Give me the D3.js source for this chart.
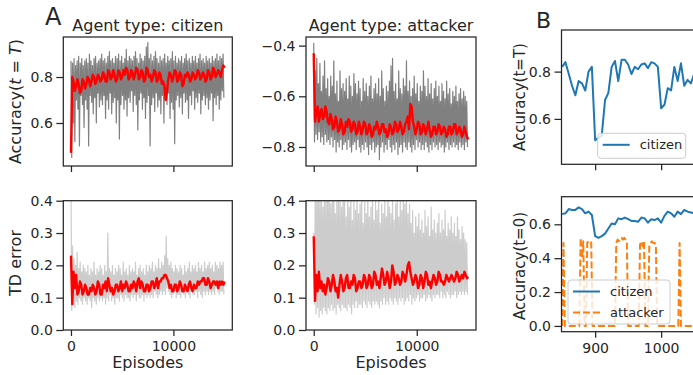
<!DOCTYPE html>
<html>
<head>
<meta charset="utf-8">
<script src="https://cdn.jsdelivr.net/npm/d3@7"></script>
<style>
  body { margin: 0; background: #fff; }
  svg { display: block; font-family: "DejaVu Sans", sans-serif; }
  .axis text { font-size: 14px; fill: #262626; font-family: "DejaVu Sans", sans-serif; }
  .axis line { stroke: #262626; stroke-width: 1.25; }
</style>
</head>
<body>
<svg id="chart" width="693" height="375"></svg>
<script>
// ---- panel A data: raw runs (grey) as alternating high / low readings, smoothed run (red)
const grayStep = 150;   // episodes between grey readings
const redStep = 125;    // episodes between red readings

const citizenAccHi = [
  0.87,0.86,0.88,0.85,0.87,0.89,0.86,0.88,0.85,0.87,
  0.88,0.86,0.90,0.87,0.85,0.88,0.89,0.86,0.87,0.88,
  0.90,0.87,0.88,0.86,0.89,0.91,0.87,0.88,0.86,0.89,
  0.88,0.90,0.87,0.89,0.86,0.88,0.92,0.87,0.89,0.88,
  0.87,0.89,0.91,0.88,0.86,0.90,0.88,0.87,0.89,0.93,
  0.95,0.88,0.90,0.87,0.89,0.91,0.88,0.86,0.89,0.87,
  0.88,0.90,0.86,0.89,0.87,0.88,0.91,0.87,0.89,0.86,
  0.88,0.87,0.89,0.86,0.88,0.90,0.87,0.88,0.86,0.89,
  0.87,0.89,0.86,0.88,0.90,0.87,0.88,0.86,0.89,0.87,
  0.88,0.86,0.89,0.87,0.88,0.90,0.87,0.89,0.88,0.90
];
const citizenAccLo = [
  0.45,0.60,0.52,0.70,0.66,0.50,0.72,0.68,0.58,0.70,
  0.66,0.50,0.72,0.69,0.64,0.71,0.60,0.73,0.67,0.70,
  0.68,0.72,0.62,0.70,0.66,0.73,0.64,0.69,0.71,0.60,
  0.70,0.53,0.68,0.72,0.66,0.70,0.63,0.71,0.69,0.74,
  0.65,0.72,0.68,0.57,0.70,0.73,0.66,0.71,0.62,0.69,
  0.72,0.50,0.68,0.71,0.65,0.73,0.67,0.70,0.64,0.72,
  0.60,0.70,0.68,0.73,0.62,0.69,0.66,0.51,0.70,0.72,
  0.67,0.71,0.64,0.73,0.69,0.70,0.62,0.72,0.68,0.74,
  0.66,0.71,0.69,0.73,0.64,0.70,0.72,0.68,0.71,0.66,
  0.70,0.73,0.61,0.71,0.68,0.72,0.66,0.70,0.74,0.71
];
const citizenAccRed = [
  0.47,0.80,0.78,0.74,0.76,0.79,0.77,0.73,0.74,0.79,
  0.78,0.75,0.77,0.80,0.79,0.76,0.78,0.81,0.80,0.77,
  0.78,0.81,0.80,0.78,0.79,0.82,0.81,0.78,0.78,0.83,
  0.82,0.79,0.80,0.83,0.81,0.78,0.79,0.83,0.82,0.79,
  0.80,0.83,0.81,0.84,0.83,0.79,0.80,0.83,0.82,0.79,
  0.81,0.84,0.83,0.79,0.80,0.83,0.82,0.78,0.79,0.84,
  0.83,0.80,0.81,0.78,0.80,0.83,0.82,0.78,0.79,0.82,
  0.81,0.77,0.78,0.76,0.70,0.74,0.79,0.82,0.81,0.78,
  0.80,0.83,0.82,0.78,0.79,0.82,0.81,0.76,0.77,0.81,
  0.80,0.82,0.81,0.78,0.79,0.82,0.81,0.79,0.80,0.83,
  0.82,0.79,0.80,0.82,0.81,0.78,0.79,0.83,0.82,0.79,
  0.80,0.84,0.83,0.80,0.81,0.83,0.82,0.80,0.83,0.85,
  0.84
];

const attackerAccHi = [
  -0.39,-0.50,-0.45,-0.55,-0.47,-0.58,-0.52,-0.46,-0.57,-0.53,
  -0.60,-0.52,-0.56,-0.46,-0.59,-0.54,-0.62,-0.50,-0.57,-0.55,
  -0.58,-0.53,-0.61,-0.52,-0.56,-0.60,-0.51,-0.55,-0.59,-0.54,
  -0.57,-0.62,-0.53,-0.58,-0.55,-0.60,-0.56,-0.52,-0.61,-0.57,
  -0.55,-0.59,-0.53,-0.60,-0.50,-0.57,-0.62,-0.56,-0.58,-0.54,
  -0.48,-0.45,-0.58,-0.55,-0.61,-0.50,-0.57,-0.59,-0.53,-0.56,
  -0.46,-0.58,-0.54,-0.60,-0.57,-0.52,-0.59,-0.55,-0.62,-0.56,
  -0.58,-0.50,-0.56,-0.60,-0.53,-0.59,-0.55,-0.61,-0.57,-0.54,
  -0.60,-0.56,-0.62,-0.55,-0.58,-0.61,-0.54,-0.59,-0.57,-0.63,
  -0.58,-0.60,-0.56,-0.62,-0.59,-0.57,-0.61,-0.58,-0.60,-0.62
];
const attackerAccLo = [
  -0.78,-0.75,-0.77,-0.74,-0.78,-0.76,-0.79,-0.75,-0.78,-0.77,
  -0.79,-0.76,-0.80,-0.77,-0.82,-0.78,-0.80,-0.77,-0.81,-0.79,
  -0.78,-0.81,-0.77,-0.80,-0.82,-0.79,-0.78,-0.81,-0.77,-0.80,
  -0.82,-0.79,-0.81,-0.78,-0.80,-0.83,-0.79,-0.81,-0.78,-0.82,
  -0.80,-0.79,-0.85,-0.80,-0.78,-0.82,-0.79,-0.81,-0.77,-0.80,
  -0.82,-0.79,-0.81,-0.78,-0.83,-0.80,-0.79,-0.82,-0.78,-0.80,
  -0.81,-0.78,-0.80,-0.82,-0.79,-0.81,-0.77,-0.80,-0.78,-0.81,
  -0.79,-0.81,-0.78,-0.80,-0.82,-0.79,-0.81,-0.78,-0.80,-0.79,
  -0.81,-0.78,-0.80,-0.79,-0.82,-0.80,-0.78,-0.81,-0.79,-0.80,
  -0.78,-0.80,-0.79,-0.81,-0.78,-0.80,-0.79,-0.81,-0.78,-0.80
];
const attackerAccRed = [
  -0.43,-0.70,-0.66,-0.64,-0.70,-0.67,-0.65,-0.69,-0.68,-0.64,
  -0.66,-0.70,-0.71,-0.67,-0.69,-0.73,-0.72,-0.68,-0.70,-0.74,
  -0.73,-0.69,-0.71,-0.75,-0.74,-0.70,-0.72,-0.69,-0.70,-0.74,
  -0.73,-0.70,-0.71,-0.75,-0.74,-0.70,-0.72,-0.75,-0.73,-0.70,
  -0.71,-0.75,-0.74,-0.71,-0.72,-0.76,-0.75,-0.72,-0.73,-0.70,
  -0.72,-0.75,-0.74,-0.71,-0.71,-0.74,-0.73,-0.76,-0.75,-0.71,
  -0.72,-0.75,-0.74,-0.70,-0.71,-0.74,-0.73,-0.70,-0.72,-0.75,
  -0.74,-0.71,-0.70,-0.68,-0.73,-0.63,-0.64,-0.70,-0.72,-0.75,
  -0.73,-0.70,-0.71,-0.75,-0.74,-0.71,-0.72,-0.75,-0.73,-0.70,
  -0.73,-0.76,-0.75,-0.72,-0.72,-0.75,-0.74,-0.71,-0.72,-0.75,
  -0.74,-0.72,-0.73,-0.76,-0.75,-0.72,-0.72,-0.75,-0.74,-0.71,
  -0.71,-0.75,-0.74,-0.72,-0.73,-0.76,-0.75,-0.72,-0.74,-0.76,
  -0.77
];

const citizenTdHi = [
  0.45,0.26,0.22,0.20,0.24,0.19,0.21,0.18,0.20,0.19,
  0.18,0.20,0.17,0.19,0.18,0.21,0.17,0.19,0.18,0.20,
  0.19,0.17,0.20,0.18,0.30,0.19,0.18,0.20,0.17,0.19,
  0.18,0.20,0.19,0.17,0.21,0.18,0.19,0.17,0.20,0.18,
  0.19,0.18,0.21,0.17,0.19,0.20,0.18,0.19,0.17,0.20,
  0.18,0.20,0.19,0.21,0.18,0.20,0.19,0.22,0.19,0.21,
  0.20,0.23,0.29,0.22,0.20,0.21,0.19,0.18,0.20,0.19,
  0.18,0.20,0.19,0.17,0.20,0.18,0.19,0.21,0.18,0.20,
  0.19,0.20,0.18,0.21,0.19,0.20,0.18,0.21,0.19,0.20,
  0.21,0.19,0.20,0.18,0.21,0.20,0.19,0.21,0.20,0.21
];
const citizenTdLo = [
  0.06,0.08,0.07,0.09,0.08,0.10,0.09,0.08,0.10,0.09,
  0.08,0.10,0.09,0.07,0.10,0.09,0.08,0.10,0.09,0.10,
  0.09,0.10,0.08,0.10,0.09,0.11,0.09,0.10,0.08,0.10,
  0.10,0.09,0.11,0.10,0.09,0.11,0.10,0.10,0.09,0.11,
  0.10,0.11,0.09,0.11,0.10,0.10,0.11,0.09,0.11,0.10,
  0.11,0.10,0.11,0.10,0.12,0.11,0.10,0.11,0.12,0.11,
  0.12,0.11,0.13,0.12,0.11,0.10,0.11,0.12,0.10,0.11,
  0.11,0.10,0.12,0.11,0.10,0.12,0.11,0.10,0.12,0.11,
  0.11,0.12,0.10,0.12,0.11,0.10,0.12,0.11,0.12,0.11,
  0.12,0.11,0.12,0.11,0.13,0.12,0.11,0.12,0.12,0.11
];
const citizenTdRed = [
  0.23,0.08,0.18,0.13,0.17,0.11,0.12,0.15,0.14,0.11,
  0.12,0.14,0.13,0.11,0.11,0.13,0.12,0.14,0.13,0.11,
  0.12,0.15,0.14,0.11,0.11,0.14,0.13,0.15,0.12,0.16,
  0.14,0.12,0.13,0.11,0.12,0.14,0.14,0.12,0.13,0.15,
  0.12,0.14,0.13,0.15,0.14,0.12,0.12,0.14,0.13,0.15,
  0.14,0.12,0.15,0.16,0.13,0.15,0.14,0.12,0.12,0.14,
  0.14,0.12,0.13,0.15,0.15,0.13,0.14,0.16,0.13,0.15,
  0.15,0.16,0.16,0.17,0.17,0.16,0.15,0.13,0.14,0.12,
  0.12,0.14,0.14,0.12,0.13,0.15,0.14,0.12,0.12,0.14,
  0.13,0.12,0.14,0.15,0.13,0.12,0.14,0.13,0.13,0.15,
  0.14,0.15,0.15,0.16,0.16,0.14,0.14,0.16,0.15,0.13,
  0.14,0.15,0.15,0.14,0.15,0.13,0.15,0.14,0.15,0.14,
  0.15
];

const attackerTdHi = [
  0.30,0.45,0.42,0.48,0.40,0.44,0.38,0.46,0.41,0.43,
  0.45,0.39,0.42,0.47,0.36,0.44,0.40,0.43,0.38,0.45,
  0.41,0.35,0.43,0.38,0.42,0.34,0.40,0.37,0.44,0.36,
  0.39,0.42,0.33,0.40,0.36,0.43,0.35,0.38,0.41,0.34,
  0.40,0.37,0.42,0.33,0.39,0.36,0.41,0.35,0.43,0.38,
  0.36,0.41,0.34,0.39,0.42,0.35,0.40,0.37,0.44,0.39,
  0.42,0.36,0.39,0.33,0.37,0.30,0.35,0.32,0.36,0.31,
  0.34,0.30,0.37,0.32,0.35,0.29,0.38,0.31,0.34,0.30,
  0.33,0.36,0.30,0.34,0.31,0.37,0.29,0.33,0.31,0.35,
  0.30,0.33,0.29,0.35,0.31,0.28,0.32,0.30,0.28,0.27
];
const attackerTdLo = [
  0.08,0.05,0.07,0.04,0.06,0.05,0.07,0.06,0.05,0.07,
  0.06,0.08,0.06,0.07,0.05,0.08,0.07,0.06,0.08,0.07,
  0.07,0.06,0.08,0.07,0.05,0.08,0.07,0.09,0.07,0.08,
  0.08,0.07,0.09,0.08,0.07,0.09,0.08,0.07,0.09,0.08,
  0.09,0.08,0.07,0.09,0.08,0.10,0.08,0.09,0.08,0.10,
  0.09,0.08,0.10,0.09,0.08,0.10,0.09,0.10,0.08,0.09,
  0.10,0.09,0.11,0.08,0.10,0.09,0.10,0.11,0.09,0.10,
  0.10,0.11,0.09,0.10,0.11,0.10,0.09,0.11,0.10,0.11,
  0.11,0.10,0.12,0.10,0.11,0.10,0.12,0.11,0.10,0.11,
  0.11,0.12,0.10,0.11,0.12,0.11,0.12,0.11,0.12,0.11
];
const attackerTdRed = [
  0.29,0.09,0.17,0.12,0.18,0.13,0.15,0.12,0.14,0.11,
  0.13,0.16,0.15,0.12,0.14,0.17,0.15,0.12,0.13,0.10,
  0.14,0.17,0.15,0.12,0.13,0.16,0.17,0.13,0.13,0.15,
  0.14,0.17,0.16,0.12,0.13,0.15,0.15,0.13,0.14,0.17,
  0.16,0.13,0.14,0.17,0.16,0.13,0.14,0.18,0.17,0.14,
  0.15,0.13,0.16,0.19,0.17,0.14,0.15,0.18,0.16,0.13,
  0.15,0.20,0.18,0.14,0.15,0.17,0.16,0.14,0.15,0.18,
  0.17,0.15,0.17,0.20,0.21,0.18,0.16,0.14,0.15,0.17,
  0.16,0.13,0.14,0.17,0.16,0.13,0.15,0.18,0.17,0.14,
  0.15,0.13,0.15,0.17,0.16,0.14,0.15,0.18,0.17,0.15,
  0.15,0.14,0.15,0.17,0.16,0.15,0.16,0.17,0.16,0.15,
  0.16,0.18,0.17,0.15,0.16,0.17,0.16,0.18,0.17,0.16,
  0.165
];

// ---- panel B data: episodes 850..1060
const bStart = 850;
const bStep = 5;
const citizenFinal = [
  0.82,0.84,0.79,0.74,0.70,0.76,0.75,0.72,0.80,0.82,
  0.51,0.52,0.53,0.68,0.71,0.82,0.845,0.76,0.85,0.85,
  0.83,0.79,0.82,0.81,0.83,0.835,0.815,0.84,0.835,0.82,
  0.645,0.66,0.73,0.72,0.82,0.76,0.835,0.74,0.765,0.75,
  0.79,0.80,0.78
];
const citizenStart = [
  0.66,0.665,0.69,0.685,0.685,0.70,0.69,0.665,0.675,0.655,
  0.53,0.52,0.53,0.545,0.575,0.605,0.60,0.635,0.63,0.64,
  0.63,0.62,0.62,0.615,0.64,0.635,0.61,0.63,0.625,0.635,
  0.61,0.65,0.675,0.665,0.645,0.675,0.66,0.685,0.675,0.67,
  0.665,0.67,0.66
];
const attackerStep = 2;
const attackerStart = [
  0,0.49,0,0,0,0,0,0,0,0,0,0,0,0,
  0.52,0.40,0.50,0,0,0.49,0.50,0.50,0.50,0,
  0,0,0,0,0,0,0,0,0,0,0,0,0,0,0,0,0,
  0.49,0.51,0.50,0.51,0.52,0.51,0.52,0.51,0.50,0,
  0,0,0,0,0,0,0,0,0.48,0.50,0.47,0.50,0,0,0,
  0.47,0.49,0.50,0.49,0.49,0.48,0,
  0,0,0,0,0,0,0,0,0,0,0,0,0,0,0,0,0.49,0,
  0,0,0,0,0,0,0,0,0,0,0,0,0,0,0
];

const epTicks = [0, 10000];
const bTicks = [900, 1000];

const svg = d3.select("#chart");
const ink = "#262626";

function zigzag(hi, lo, step) {
  const pts = [];
  hi.forEach((h, i) => {
    pts.push([i * step, h]);
    pts.push([i * step + step / 2, lo[i]]);
  });
  return pts;
}
function evenly(vals, start, step) {
  return vals.map((v, i) => [start + i * step, v]);
}

let clipCount = 0;
function panel(o) {
  const x = d3.scaleLinear().domain(o.xDomain).range([o.left, o.right]);
  const y = d3.scaleLinear().domain(o.yDomain).range([o.bottom, o.top]);
  const id = "clip" + (clipCount++);
  svg.append("clipPath").attr("id", id).append("rect")
    .attr("x", o.left).attr("y", o.top)
    .attr("width", o.right - o.left).attr("height", o.bottom - o.top);
  const g = svg.append("g").attr("clip-path", `url(#${id})`);
  const line = d3.line().x(d => x(d[0])).y(d => y(d[1]));
  o.series.forEach(s => {
    g.append("path").datum(s.points)
      .attr("fill", "none")
      .attr("stroke", s.color)
      .attr("stroke-width", s.width)
      .attr("stroke-dasharray", s.dash || null)
      .attr("stroke-linejoin", "round")
      .attr("d", line);
  });
  svg.append("rect")
    .attr("x", o.left).attr("y", o.top)
    .attr("width", o.right - o.left).attr("height", o.bottom - o.top)
    .attr("fill", "none").attr("stroke", ink).attr("stroke-width", 1.25);

  const xa = svg.append("g").attr("class", "axis")
    .attr("transform", `translate(0,${o.bottom})`)
    .call(d3.axisBottom(x).tickValues(o.xTicks).tickSize(6).tickPadding(5)
      .tickFormat(o.xLabels ? d3.format("d") : ""));
  xa.select(".domain").remove();
  const ya = svg.append("g").attr("class", "axis")
    .attr("transform", `translate(${o.left},0)`)
    .call(d3.axisLeft(y).tickValues(o.yTicks).tickSize(7).tickPadding(3.5)
      .tickFormat(d3.format(".1f")));
  ya.select(".domain").remove();
  return { x, y };
}

function legend(x0, y0, w, h, items) {
  const g = svg.append("g");
  g.append("rect").attr("x", x0).attr("y", y0).attr("width", w).attr("height", h)
    .attr("rx", 3).attr("fill", "#fff").attr("fill-opacity", 0.8)
    .attr("stroke", "#cccccc").attr("stroke-width", 1);
  items.forEach((it, i) => {
    const cy = y0 + 11.5 + i * 21;
    g.append("line").attr("x1", x0 + 5).attr("x2", x0 + 32).attr("y1", cy).attr("y2", cy)
      .attr("stroke", it.color).attr("stroke-width", 2)
      .attr("stroke-dasharray", it.dash || null);
    g.append("text").attr("x", x0 + 42).attr("y", cy).attr("dy", "0.35em")
      .attr("font-size", 13).attr("fill", ink).text(it.label);
  });
}

const grey = "#808080", light = "#cccccc", red = "#ff0000";
const epDomain = [-750, 15750];

// ---- panel A
panel({
  left: 63.3, right: 232.3, top: 37, bottom: 166,
  xDomain: epDomain, yDomain: [0.413, 0.974],
  xTicks: epTicks, yTicks: [0.6, 0.8], xLabels: false,
  series: [
    { points: zigzag(citizenAccHi, citizenAccLo, grayStep), color: grey, width: 1.2 },
    { points: evenly(citizenAccRed, 0, redStep), color: red, width: 2.4 }
  ]
});
panel({
  left: 306, right: 476, top: 37, bottom: 166,
  xDomain: epDomain, yDomain: [-0.875, -0.366],
  xTicks: epTicks, yTicks: [-0.8, -0.6, -0.4], xLabels: false,
  series: [
    { points: zigzag(attackerAccHi, attackerAccLo, grayStep), color: grey, width: 1.2 },
    { points: evenly(attackerAccRed, 0, redStep), color: red, width: 2.4 }
  ]
});
panel({
  left: 63.3, right: 232.3, top: 200.7, bottom: 330,
  xDomain: epDomain, yDomain: [0, 0.4],
  xTicks: epTicks, yTicks: [0, 0.1, 0.2, 0.3, 0.4], xLabels: true,
  series: [
    { points: zigzag(citizenTdHi, citizenTdLo, grayStep), color: light, width: 1.2 },
    { points: evenly(citizenTdRed, 0, redStep), color: red, width: 2.4 }
  ]
});
panel({
  left: 306, right: 476, top: 200.7, bottom: 330,
  xDomain: epDomain, yDomain: [0, 0.4],
  xTicks: epTicks, yTicks: [0, 0.1, 0.2, 0.3, 0.4], xLabels: true,
  series: [
    { points: zigzag(attackerTdHi, attackerTdLo, grayStep), color: light, width: 1.2 },
    { points: evenly(attackerTdRed, 0, redStep), color: red, width: 2.4 }
  ]
});

// ---- panel B (cut off at the right edge, as in the figure)
const bDomain = [849, 1106.6];
panel({
  left: 561.5, right: 731.5, top: 30, bottom: 164.3,
  xDomain: bDomain, yDomain: [0.408, 0.976],
  xTicks: bTicks, yTicks: [0.6, 0.8], xLabels: false,
  series: [
    { points: evenly(citizenFinal, bStart, bStep), color: "#1f77b4", width: 2 }
  ]
});
legend(597.7, 133.3, 88, 25, [{ label: "citizen", color: "#1f77b4" }]);

panel({
  left: 561.5, right: 731.5, top: 196.7, bottom: 331.7,
  xDomain: bDomain, yDomain: [-0.034, 0.763],
  xTicks: bTicks, yTicks: [0, 0.2, 0.4, 0.6], xLabels: true,
  series: [
    { points: evenly(citizenStart, bStart, bStep), color: "#1f77b4", width: 2 },
    { points: evenly(attackerStart, bStart, attackerStep), color: "#ff7f0e", width: 2, dash: "7,3" }
  ]
});
legend(568, 280, 102, 44, [
  { label: "citizen", color: "#1f77b4" },
  { label: "attacker", color: "#ff7f0e", dash: "7,3" }
]);

// ---- titles, labels
function label(x, y, txt, opts = {}) {
  return svg.append("text").attr("x", x).attr("y", y)
    .attr("font-size", opts.size || 16).attr("fill", ink)
    .attr("text-anchor", opts.anchor || "middle")
    .attr("transform", opts.rotate ? `rotate(-90,${x},${y})` : null)
    .text(txt);
}
label(45, 25, "A", { size: 24, anchor: "start" });
label(536, 28, "B", { size: 22, anchor: "start" });
label(147.8, 30.5, "Agent type: citizen");
label(391, 30.5, "Agent type: attacker");
label(147.8, 368, "Episodes");
label(391, 368, "Episodes");

const accLabel = svg.append("text").attr("x", 21).attr("y", 101.5)
  .attr("font-size", 16).attr("fill", ink).attr("text-anchor", "middle")
  .attr("transform", "rotate(-90,21,101.5)");
accLabel.append("tspan").text("Accuracy(");
accLabel.append("tspan").attr("font-style", "italic").text("t");
accLabel.append("tspan").text(" = ");
accLabel.append("tspan").attr("font-style", "italic").text("T");
accLabel.append("tspan").text(")");
label(21, 263, "TD error", { rotate: true });
label(525, 97, "Accuracy(t=T)", { rotate: true, size: 15 });
label(525, 266, "Accuracy(t=0)", { rotate: true, size: 15 });
</script>
</body>
</html>
